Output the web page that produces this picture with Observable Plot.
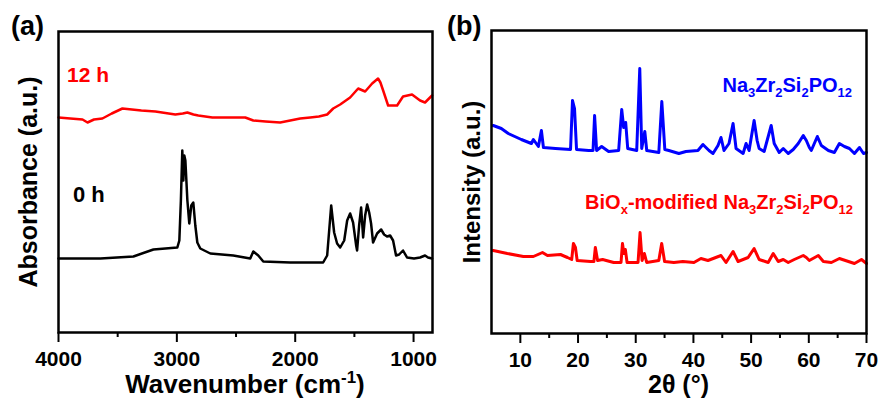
<!DOCTYPE html>
<html><head><meta charset="utf-8">
<script src="https://cdn.jsdelivr.net/npm/d3@7"></script>
<script src="https://cdn.jsdelivr.net/npm/@observablehq/plot@0.6"></script>
<style>
body{margin:0;background:#fff;}
#wrap{display:flex;width:882px;height:405px;overflow:hidden;}
</style></head><body><div id="wrap"></div>
<script>
// ---------- Panel (a): FTIR ----------
const wn12 = [4000,3900,3797,3755,3700,3629,3550,3460,3300,3181,3013,2950,2911,2860,2819,2700,2422,2354,2250,2127,2000,1958,1873,1800,1730,1679,1620,1536,1468,1409,1350,1300,1280,1257,1215,1139,1089,1013,945,903,844];
const abs12 = [2.15,2.14,2.13,2.10,2.13,2.14,2.19,2.24,2.22,2.21,2.18,2.19,2.20,2.18,2.17,2.15,2.15,2.12,2.11,2.10,2.13,2.14,2.15,2.16,2.18,2.24,2.28,2.35,2.44,2.41,2.49,2.54,2.50,2.42,2.27,2.27,2.36,2.38,2.32,2.30,2.37];
const wn0 = [4000,3646,3367,3198,2996,2979,2966,2954,2945,2937,2928,2911,2895,2878,2861,2844,2827,2802,2717,2523,2380,2354,2312,2270,2042,1764,1730,1713,1696,1671,1646,1620,1586,1561,1536,1511,1485,1477,1460,1443,1426,1409,1392,1375,1359,1342,1308,1274,1249,1224,1198,1173,1148,1122,1089,1055,996,945,903,878,844];
const abs0 = [0.74,0.74,0.76,0.83,0.85,0.92,1.32,1.82,1.52,1.77,1.72,1.32,1.09,1.27,1.30,1.07,0.90,0.84,0.79,0.77,0.74,0.81,0.77,0.71,0.70,0.70,0.77,1.02,1.27,1.00,0.89,0.85,0.92,1.12,1.19,1.10,0.87,0.82,1.07,1.25,0.95,1.17,1.28,1.20,1.09,0.90,0.99,1.03,0.98,0.96,0.97,0.92,0.77,0.78,0.82,0.75,0.74,0.75,0.77,0.75,0.74];
const ftirMajor = [4000,3000,2000,1000];
const ftirMinor = [3500,2500,1500];

// ---------- Panel (b): XRD ----------
const ttBlue = [5.3,6.7,7.91,10.17,11.91,12.26,13.13,13.65,14.0,16.09,18.7,19.04,19.39,19.74,21.83,22.6,22.87,23.22,24.09,25.3,27.04,27.57,27.91,28.26,28.61,30.17,30.7,31.04,31.57,31.91,34.0,34.52,35.04,35.74,37.48,38.7,40.78,41.65,42.17,42.7,43.39,44.26,44.78,45.3,46.17,46.87,47.39,48.61,49.13,49.65,50.52,51.04,51.39,52.26,53.48,54.0,54.87,55.57,56.43,57.3,58.17,59.04,59.57,60.09,60.43,61.48,62.17,63.39,64.43,65.3,66.17,67.04,67.91,68.78,69.48,70.0];
const intBlue = [2.08,2.05,2.00,1.94,1.90,1.94,1.87,2.03,1.86,1.85,1.84,2.33,2.25,1.84,1.83,1.83,2.18,1.83,1.87,1.82,1.83,2.24,2.06,2.11,1.85,1.83,2.65,1.85,2.02,1.83,1.81,2.32,1.84,1.83,1.80,1.82,1.83,1.89,1.86,1.83,1.80,1.88,1.96,1.83,1.90,2.10,1.85,1.80,1.90,1.83,2.13,1.93,1.85,1.82,2.08,1.90,1.81,1.85,1.80,1.84,1.90,1.98,1.93,1.86,1.83,1.97,1.88,1.83,1.81,1.90,1.87,1.85,1.80,1.86,1.80,1.81];
const ttRed = [5.3,7.74,10.52,12.26,13.83,14.7,16.96,18.17,18.9,19.2,19.55,19.85,22.17,22.75,23.0,23.39,24.26,26.17,27.45,27.7,27.95,28.2,28.5,30.4,30.75,31.1,31.5,31.9,34.0,34.5,35.0,36.61,38.17,40.09,41.3,42.52,44.78,45.65,46.87,47.74,49.48,50.52,51.39,52.96,53.83,54.7,55.57,56.43,57.48,59.04,59.57,60.09,61.65,62.52,63.91,65.3,66.87,67.91,69.13,70.0];
const intRed = [0.83,0.80,0.77,0.77,0.81,0.78,0.79,0.76,0.74,0.90,0.86,0.73,0.72,0.72,0.86,0.73,0.74,0.71,0.71,0.90,0.80,0.84,0.71,0.71,1.01,0.73,0.80,0.71,0.73,0.90,0.72,0.71,0.72,0.71,0.75,0.73,0.78,0.71,0.82,0.72,0.76,0.85,0.74,0.71,0.80,0.72,0.74,0.71,0.74,0.78,0.76,0.73,0.78,0.72,0.71,0.75,0.72,0.70,0.74,0.70];
const xrdMajor = [10,20,30,40,50,60,70];
const xrdMinor = [15,25,35,45,55,65];

const FONT = '"Liberation Sans", Arial, Helvetica, sans-serif';

function makePanel(o) {
  return Plot.plot({
    width: 441, height: 405,
    marginLeft: o.ml, marginRight: o.mr, marginTop: o.mt, marginBottom: o.mb,
    style: {fontFamily: FONT, fontSize: "21px", fontWeight: "bold", color: "black", background: "white", overflow: "visible"},
    x: {domain: o.xdomain},
    y: {domain: o.ydomain, axis: null},
    marks: [
      ...o.lines.map(l => Plot.lineY(l.y, {x: l.x, stroke: l.color, strokeWidth: l.w, strokeLinejoin: "round"})),
      Plot.axisX({ticks: o.minor, tickSize: 5, strokeWidth: 2, tickFormat: () => "", label: null}),
      Plot.axisX({ticks: o.major, tickSize: 10, tickPadding: 9, strokeWidth: 2, fontSize: 21, fontWeight: "bold", tickFormat: d => String(d), label: null}),
      Plot.frame({stroke: "black", strokeWidth: 2.5})
    ]
  });
}

function addText(svg, {x, y, parts, size, color = "black", anchor = "start", rotate = false}) {
  const t = d3.select(svg).append("text")
    .attr("font-family", FONT).attr("font-weight", "bold")
    .attr("font-size", size).attr("fill", color)
    .attr("text-anchor", anchor);
  if (rotate) t.attr("transform", `translate(${x},${y}) rotate(-90)`);
  else t.attr("x", x).attr("y", y);
  let shift = 0;
  for (const p of parts) {
    const s = typeof p === "string" ? {t: p} : p;
    const target = s.sub ? size * 0.27 : s.sup ? -size * 0.4 : 0;
    t.append("tspan").attr("dy", target - shift)
      .attr("font-size", s.sub || s.sup ? size * 0.65 : size)
      .text(s.t);
    shift = target;
  }
}

const wrap = document.getElementById("wrap");

const svgA = makePanel({
  ml: 58, mr: 9, mt: 31, mb: 73,
  xdomain: [4000, 840], ydomain: [0, 3.01],
  major: ftirMajor, minor: ftirMinor,
  lines: [
    {x: wn12, y: abs12, color: "#ff0000", w: 2.5},
    {x: wn0, y: abs0, color: "#000000", w: 2.5}
  ]
});
wrap.appendChild(svgA);
addText(svgA, {x: 11, y: 35, parts: ["(a)"], size: 27});
addText(svgA, {x: 67, y: 82, parts: ["12 h"], size: 21, color: "#ff0000"});
addText(svgA, {x: 73, y: 202, parts: ["0 h"], size: 22});
addText(svgA, {x: 37, y: 182, parts: ["Absorbance (a.u.)"], size: 25, anchor: "middle", rotate: true});
addText(svgA, {x: 245, y: 393, parts: ["Wavenumber (cm", {t: "-1", sup: true}, ")"], size: 26, anchor: "middle"});

const svgB = makePanel({
  ml: 50, mr: 16, mt: 30, mb: 72,
  xdomain: [5, 70], ydomain: [0, 3.03],
  major: xrdMajor, minor: xrdMinor,
  lines: [
    {x: ttBlue, y: intBlue, color: "#0000ff", w: 3},
    {x: ttRed, y: intRed, color: "#ff0000", w: 3}
  ]
});
wrap.appendChild(svgB);
addText(svgB, {x: 6, y: 35, parts: ["(b)"], size: 27});
addText(svgB, {x: 39, y: 182, parts: ["Intensity (a.u.)"], size: 24, anchor: "middle", rotate: true});
addText(svgB, {x: 237.5, y: 393, parts: ["2θ (°)"], size: 25, anchor: "middle"});
addText(svgB, {x: 411, y: 92, size: 20, color: "#0000ff", anchor: "end",
  parts: ["Na", {t: "3", sub: true}, "Zr", {t: "2", sub: true}, "Si", {t: "2", sub: true}, "PO", {t: "12", sub: true}]});
addText(svgB, {x: 412, y: 209, size: 20, color: "#ff0000", anchor: "end",
  parts: ["BiO", {t: "x", sub: true}, "-modified Na", {t: "3", sub: true}, "Zr", {t: "2", sub: true}, "Si", {t: "2", sub: true}, "PO", {t: "12", sub: true}]});
</script>
</body></html>
